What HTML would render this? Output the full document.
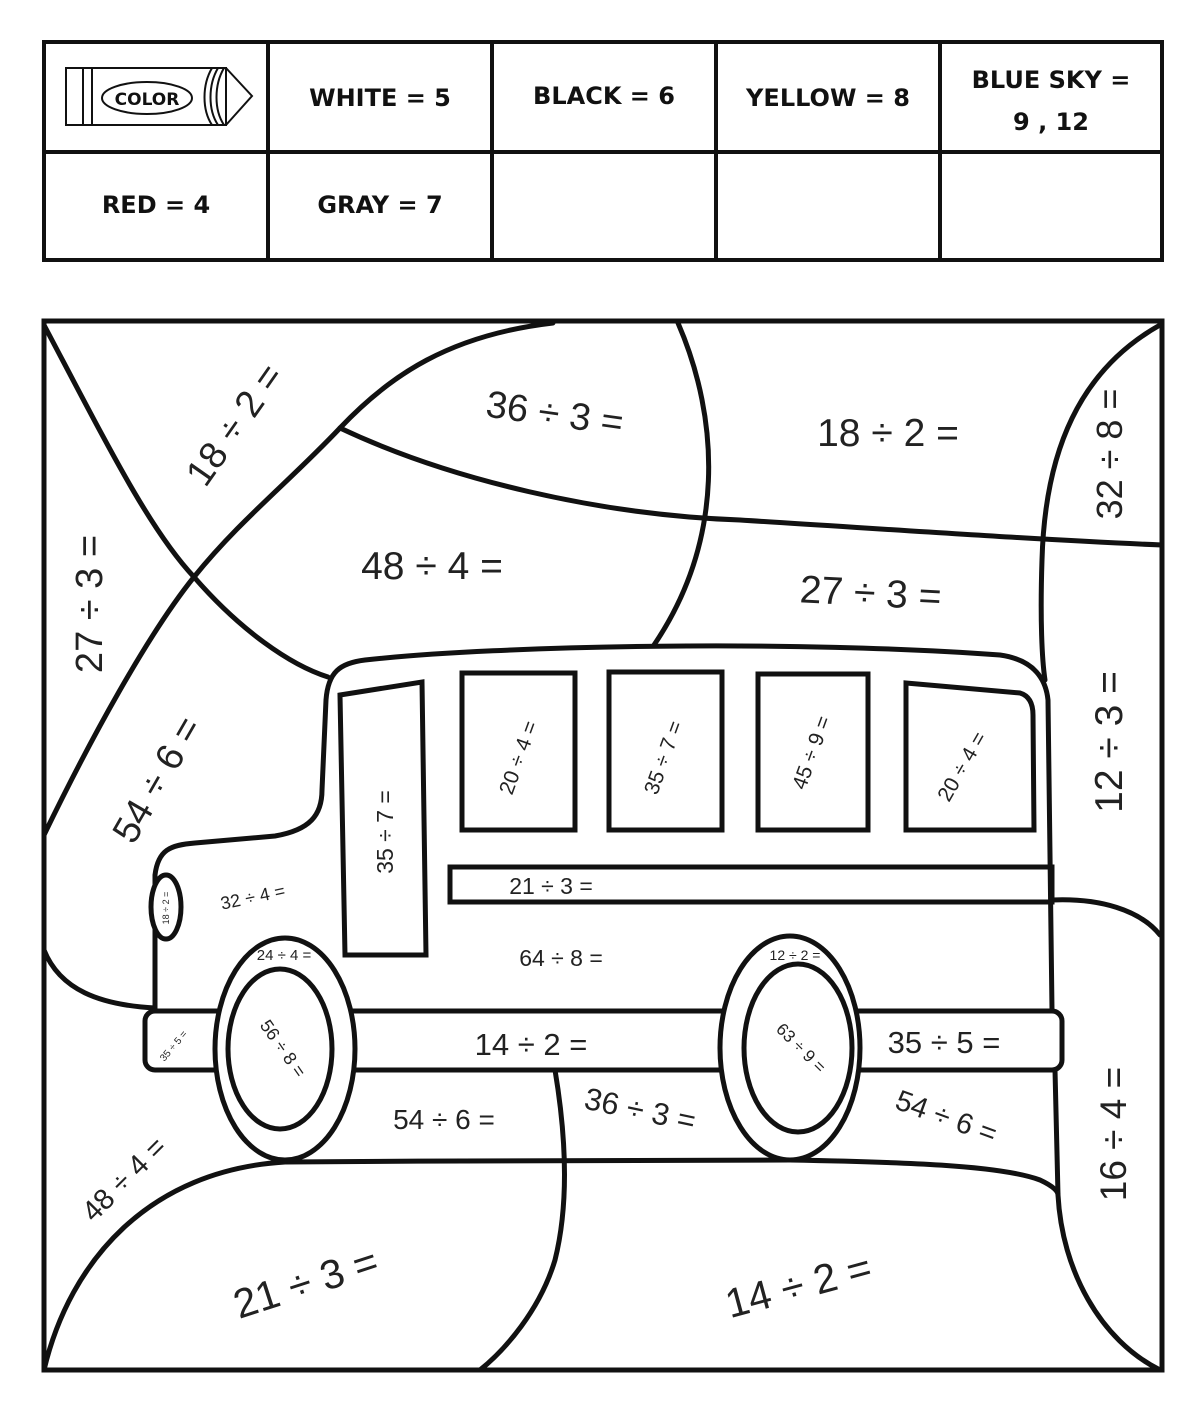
<!DOCTYPE html>
<html><head><meta charset="utf-8"><style>
html,body{margin:0;padding:0;background:#fff}
svg{display:block}
.l{font-family:"DejaVu Sans","Liberation Sans",sans-serif;font-weight:bold;font-size:24px;fill:#111;text-anchor:middle}
.t{font-family:"Liberation Sans",sans-serif;fill:#222;text-anchor:middle}
</style></head><body>
<svg width="1200" height="1401" viewBox="0 0 1200 1401" xmlns="http://www.w3.org/2000/svg">
<g fill="none" stroke="#111" stroke-width="4">
<rect x="44" y="42" width="1118" height="218"/>
<line x1="44" y1="152" x2="1162" y2="152"/>
<line x1="268" y1="42" x2="268" y2="260"/>
<line x1="492" y1="42" x2="492" y2="260"/>
<line x1="716" y1="42" x2="716" y2="260"/>
<line x1="940" y1="42" x2="940" y2="260"/>
</g>
<g fill="none" stroke="#111" stroke-width="2">
<rect x="66" y="68" width="160" height="57"/>
<line x1="83" y1="68" x2="83" y2="125"/><line x1="92" y1="68" x2="92" y2="125"/>
<path d="M226,68 L252,96 L226,125"/>
<path d="M212,68 C202,85 202,110 212,125"/><path d="M218,68 C208,85 208,110 218,125"/><path d="M224,68 C214,85 214,110 224,125"/>
<ellipse cx="147" cy="98" rx="45" ry="16"/>
</g>
<text x="147" y="105" class="l" style="font-size:17px">COLOR</text>
<text x="380" y="106" class="l">WHITE = 5</text>
<text x="604" y="104" class="l">BLACK = 6</text>
<text x="828" y="106" class="l">YELLOW = 8</text>
<text x="1051" y="88" class="l">BLUE SKY =</text>
<text x="1051" y="130" class="l">9 , 12</text>
<text x="156" y="213" class="l">RED = 4</text>
<text x="380" y="213" class="l">GRAY = 7</text>

<g fill="none" stroke="#111" stroke-width="5" stroke-linecap="round">
<path d="M44,325 C110,450 150,530 194,577 C240,630 290,665 328,677"/>
<path d="M553,323 C450,335 390,375 340,428 C290,481 240,520 194,577 C148,634 90,740 44,835"/>
<path d="M340,428 C450,480 600,515 740,520 C900,530 1040,540 1162,545"/>
<path d="M678,323 C720,420 725,540 654,645"/>
<path d="M1160,325 C1080,370 1045,450 1042,560 C1040,620 1042,660 1045,680"/>
<path d="M1052,900 C1100,898 1140,910 1160,935"/>
<path d="M44,950 C60,990 100,1005 155,1008"/>
<path d="M44,1370 C70,1260 150,1170 285,1162 C450,1160 600,1162 790,1160 C900,1162 1000,1165 1040,1180 C1055,1187 1058,1192 1058,1195"/>
<path d="M555,1070 C565,1130 570,1200 555,1260 C540,1310 505,1350 480,1370"/>
<path d="M1055,1070 L1058,1195 C1062,1270 1100,1340 1160,1370"/>
<path d="M155,1010 L155,875 C158,850 170,845 195,843 L275,836 C310,830 322,815 322,790 L326,700 C328,672 340,663 365,660 C500,645 800,640 1000,655 C1035,660 1046,680 1048,700 L1052,1010" fill="#fff"/>
<path d="M340,695 L422,682 L426,955 L345,955 Z"/>
<rect x="462" y="673" width="113" height="157"/>
<rect x="609" y="672" width="113" height="158"/>
<rect x="758" y="674" width="110" height="156"/>
<path d="M906,683 L1020,693 C1030,696 1033,705 1033,715 L1034,830 L906,830 Z"/>
<rect x="450" y="867" width="602" height="35"/>
<rect x="145" y="1011" width="917" height="59" rx="10" fill="#fff"/>
<ellipse cx="285" cy="1049" rx="70" ry="111" fill="#fff"/>
<ellipse cx="280" cy="1049" rx="52" ry="80"/>
<ellipse cx="790" cy="1048" rx="70" ry="112" fill="#fff"/>
<ellipse cx="798" cy="1048" rx="54" ry="84"/>
<ellipse cx="166" cy="907" rx="15" ry="32" fill="#fff"/>
</g>
<rect x="44" y="321" width="1118" height="1049" fill="none" stroke="#111" stroke-width="5"/>

<g class="t">
<text x="0" y="0" font-size="38" transform="translate(245,432) rotate(-55)">18 ÷ 2 =</text>
<text x="0" y="0" font-size="38" transform="translate(553,426) rotate(8)">36 ÷ 3 =</text>
<text x="888" y="446" font-size="39">18 ÷ 2 =</text>
<text x="0" y="0" font-size="36" transform="translate(1122,454) rotate(-90)">32 ÷ 8 =</text>
<text x="0" y="0" font-size="38" transform="translate(102,604) rotate(-90)">27 ÷ 3 =</text>
<text x="432" y="579" font-size="39">48 ÷ 4 =</text>
<text x="0" y="0" font-size="39" transform="translate(870,606) rotate(3)">27 ÷ 3 =</text>
<text x="0" y="0" font-size="39" transform="translate(1122,742) rotate(-90)">12 ÷ 3 =</text>
<text x="0" y="0" font-size="38" transform="translate(168,786) rotate(-60)">54 ÷ 6 =</text>
<text x="0" y="0" font-size="23" transform="translate(393,832) rotate(-90)">35 ÷ 7 =</text>
<text x="0" y="0" font-size="21" transform="translate(525,760) rotate(-70)">20 ÷ 4 =</text>
<text x="0" y="0" font-size="21" transform="translate(670,760) rotate(-70)">35 ÷ 7 =</text>
<text x="0" y="0" font-size="21" transform="translate(818,755) rotate(-70)">45 ÷ 9 =</text>
<text x="0" y="0" font-size="21" transform="translate(968,770) rotate(-60)">20 ÷ 4 =</text>
<text x="551" y="894" font-size="23">21 ÷ 3 =</text>
<text x="0" y="0" font-size="18" transform="translate(254,903) rotate(-12)">32 ÷ 4 =</text>
<text x="0" y="0" font-size="9" transform="translate(169,908) rotate(-90)">18 ÷ 2 =</text>
<text x="284" y="960" font-size="15">24 ÷ 4 =</text>
<text x="561" y="966" font-size="23">64 ÷ 8 =</text>
<text x="795" y="960" font-size="14">12 ÷ 2 =</text>
<text x="0" y="0" font-size="10" transform="translate(176,1048) rotate(-50)">35 ÷ 5 =</text>
<text x="0" y="0" font-size="18" transform="translate(278,1052) rotate(55)">56 ÷ 8 =</text>
<text x="0" y="0" font-size="17" transform="translate(797,1052) rotate(45)">63 ÷ 9 =</text>
<text x="531" y="1055" font-size="31">14 ÷ 2 =</text>
<text x="944" y="1053" font-size="31">35 ÷ 5 =</text>
<text x="444" y="1129" font-size="28">54 ÷ 6 =</text>
<text x="0" y="0" font-size="31" transform="translate(638,1120) rotate(12)">36 ÷ 3 =</text>
<text x="0" y="0" font-size="29" transform="translate(943,1126) rotate(20)">54 ÷ 6 =</text>
<text x="0" y="0" font-size="37" transform="translate(1126,1134) rotate(-90)">16 ÷ 4 =</text>
<text x="0" y="0" font-size="29" transform="translate(131,1186) rotate(-45)">48 ÷ 4 =</text>
<text x="0" y="0" font-size="41" transform="translate(310,1296) rotate(-18)">21 ÷ 3 =</text>
<text x="0" y="0" font-size="41" transform="translate(802,1299) rotate(-15)">14 ÷ 2 =</text>
</g>
</svg>
</body></html>
